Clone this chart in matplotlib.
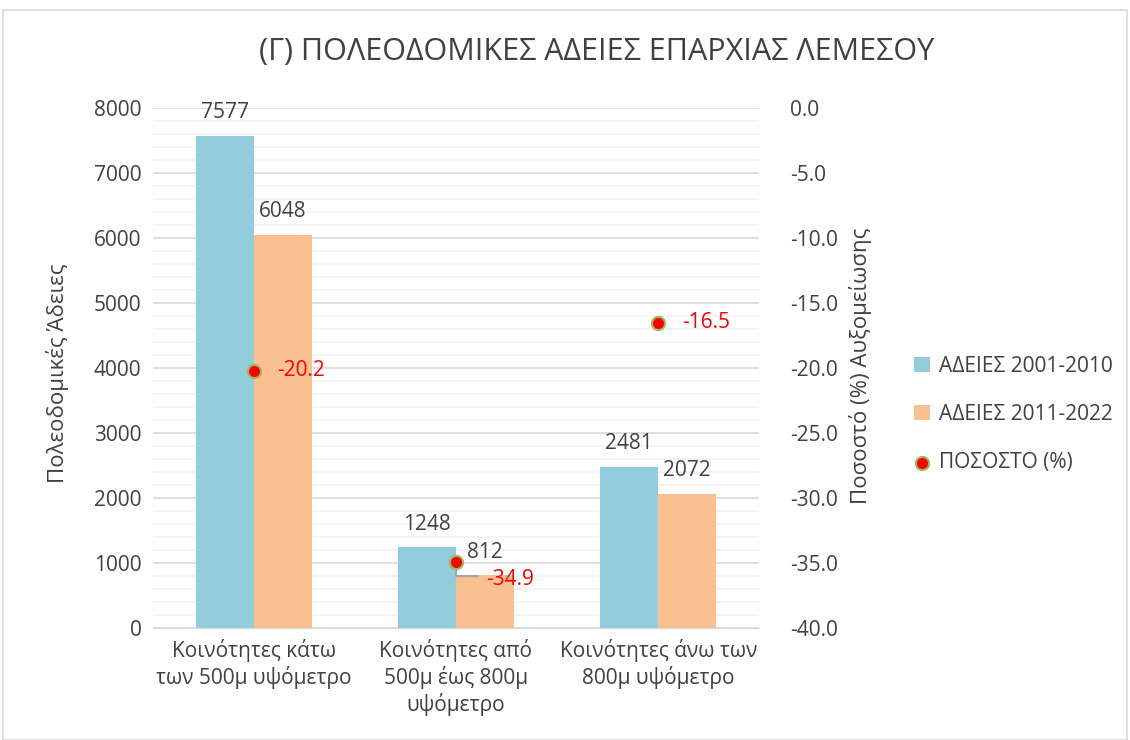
import matplotlib.pyplot as plt
from matplotlib.patches import Rectangle
import numpy as np

plt.rcParams['font.family'] = ['Open Sans', 'DejaVu Sans']

categories = ['Κοινότητες κάτω\nτων 500μ υψόμετρο',
              'Κοινότητες από\n500μ έως 800μ\nυψόμετρο',
              'Κοινότητες άνω των\n800μ υψόμετρο']
permits_2001_2010 = [7577, 1248, 2481]
permits_2011_2022 = [6048, 812, 2072]
percent_change = [-20.2, -34.9, -16.5]

txt = '#404040'
blue = '#92CDDC'
orange = '#FAC090'
fs = 15

fig = plt.figure(figsize=(11.3, 7.4), dpi=100)
fig.patches.append(Rectangle((0.003, 0.0), 0.994, 0.987, transform=fig.transFigure,
                             fill=False, edgecolor='#D9D9D9', linewidth=1.2))
ax = fig.add_axes([0.135, 0.151, 0.537, 0.703])
x = np.arange(len(categories))
w = 0.287

b1 = ax.bar(x - w / 2, permits_2001_2010, w, color=blue, label='ΑΔΕΙΕΣ 2001-2010', zorder=2)
b2 = ax.bar(x + w / 2, permits_2011_2022, w, color=orange, label='ΑΔΕΙΕΣ 2011-2022', zorder=2)
for bars in (b1, b2):
    for r in bars:
        ax.annotate(str(int(r.get_height())), (r.get_x() + r.get_width() / 2, r.get_height()),
                    xytext=(0, 9), textcoords='offset points', ha='center', va='bottom',
                    fontsize=fs, color=txt)

ax.set_xlim(-0.5, 2.5)
ax.set_ylim(0, 8000)
ax.set_yticks(range(0, 8001, 1000))
ax.set_yticks(range(0, 8001, 200), minor=True)
ax.grid(axis='y', which='major', color='#D9D9D9', linewidth=1.2, zorder=0)
ax.grid(axis='y', which='minor', color='#F2F2F2', linewidth=1.2, zorder=0)
ax.tick_params(axis='both', which='both', length=0, labelsize=fs, colors=txt, pad=8)
ax.set_xticks(x)
ax.set_xticklabels(categories, fontsize=fs, color=txt)
for s in ax.spines.values():
    s.set_visible(False)
ax.spines['bottom'].set_visible(True)
ax.spines['bottom'].set_color('#D9D9D9')
ax.set_ylabel('Πολεοδομικές Άδειες', fontsize=16, color=txt)
ax.yaxis.set_label_coords(-0.137, 0.49)

ax2 = ax.twinx()
ax2.set_ylim(-40, 0)
ax2.set_yticks(np.arange(-40, 0.1, 5))
ax2.set_yticklabels([f'{v:.1f}' for v in np.arange(-40, 0.1, 5)])
ax2.tick_params(axis='y', length=0, labelsize=fs, colors=txt, pad=22)
for s in ax2.spines.values():
    s.set_visible(False)
ax2.set_ylabel('Ποσοστό (%) Αυξομείωσης', fontsize=16, color=txt, rotation=90)
ax2.yaxis.set_label_coords(1.148, 0.505)
sc = ax2.scatter(x, percent_change, s=90, color='red', edgecolor='#9BBB59', linewidth=1.5,
                 zorder=5, label='ΠΟΣΟΣΤΟ (%)')
offsets = [(17, 0), (22, -13), (17, 0)]
for xi, v, off in zip(x, percent_change, offsets):
    ax2.annotate(f'{v:.1f}', (xi, v), xytext=off, textcoords='offset points',
                 ha='left', va='center', fontsize=fs, color='red', zorder=6)
# leader line for the middle label
ax2.annotate('', (x[1], percent_change[1]), xytext=(18, -10), textcoords='offset points',
             arrowprops=dict(arrowstyle='-', color='#A6A6A6', lw=1.5,
                             connectionstyle='angle,angleA=0,angleB=90,rad=0'))

handles = [b1, b2, sc]
fig.legend(handles, [h.get_label() for h in handles], loc='center left',
           bbox_to_anchor=(0.792, 0.44), frameon=False, fontsize=fs,
           labelcolor=txt, handlelength=0.8, handletextpad=0.4, labelspacing=1.3)

fig.text(0.528, 0.93, '(Γ) ΠΟΛΕΟΔΟΜΙΚΕΣ ΑΔΕΙΕΣ ΕΠΑΡΧΙΑΣ ΛΕΜΕΣΟΥ', ha='center', va='center',
         fontsize=22, color=txt)

fig.savefig('out.png', dpi=100)
